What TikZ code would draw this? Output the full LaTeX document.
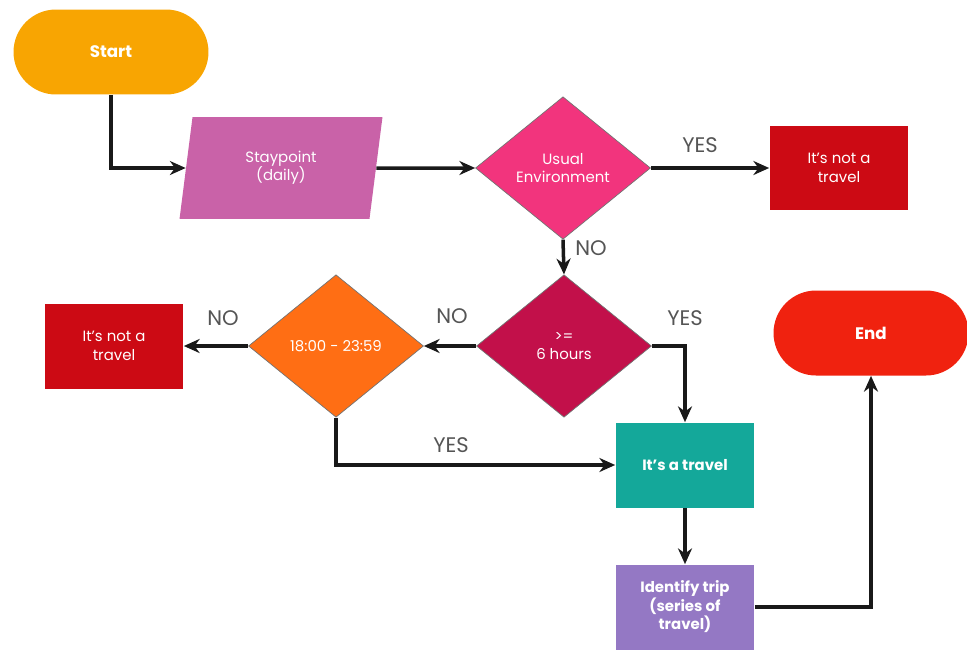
\documentclass[tikz,border=0pt]{standalone}
\usepackage{fontspec}
\setmainfont{Poppins}
\usetikzlibrary{shapes.geometric, arrows.meta}

\definecolor{startorange}{HTML}{F8A502}
\definecolor{staypink}{HTML}{C962A8}
\definecolor{usualpink}{HTML}{F2347D}
\definecolor{notred}{HTML}{CC0A14}
\definecolor{sixred}{HTML}{C2104A}
\definecolor{timeorange}{HTML}{FF6E14}
\definecolor{travelteal}{HTML}{14A89A}
\definecolor{trippurple}{HTML}{9478C4}
\definecolor{endred}{HTML}{F0220F}
\definecolor{labelgray}{HTML}{555555}

\begin{document}
\begin{tikzpicture}[x=0.02cm, y=-0.02cm, font=\fontsize{8.5}{10.5}\selectfont]
      \tikzset{terminal/.style={rectangle, rounded corners=0.85cm, fill=#1, text=white,
               font=\fontsize{9.5}{11}\selectfont\bfseries, minimum width=3.9cm, minimum height=1.7cm},
               decision/.style={diamond, fill=#1, draw=black!55, thin, text=white, align=center,
               inner sep=0pt, minimum width=3.5cm, minimum height=2.85cm},
               result/.style={rectangle, fill=#1, text=white, align=center,
               minimum width=2.78cm, minimum height=1.7cm},
               flow/.style={draw=black!90, line width=2pt, -{Stealth[length=9pt, width=8pt]}},
               answer/.style={text=labelgray, font=\fontsize{12}{14}\selectfont}}

      \useasboundingbox (0,0) rectangle (967,650);

      % Start and input
      \node[terminal=startorange] (start) at (111,52) {Start};
      \node[trapezium, trapezium left angle=74, trapezium right angle=106, trapezium stretches body,
            fill=staypink, text=white, align=center, minimum width=4.06cm, minimum height=2.04cm]
            (stay) at (281,168) {Staypoint\\(daily)};

      % Decisions
      \node[decision=usualpink] (usual) at (563,168) {Usual\\Environment};
      \node[decision=sixred] (six) at (564,346) {>=\\6 hours};
      \node[decision=timeorange] (time) at (336,346) {18:00 - 23:59};

      % Outcomes
      \node[result=notred] (notA) at (839,168) {It's not a\\travel};
      \node[result=notred] (notB) at (114,346) {It's not a\\travel};
      \node[result=travelteal, font=\fontsize{8.5}{10.5}\selectfont\bfseries] (travel) at (685,465) {It's a travel};
      \node[result=trippurple, font=\fontsize{8.5}{10.5}\selectfont\bfseries] (trip) at (685,607) {Identify trip\\(series of\\travel)};
      \node[terminal=endred] (end) at (871,333) {End};

      % Connectors
      \draw[flow] (start.south) |- (stay.west);
      \draw[flow] (stay.east) -- (usual.west);
      \draw[flow] (usual.east) -- (notA.west);
      \draw[flow] (usual.south) -- (six.north);
      \draw[flow] (six.west) -- (time.east);
      \draw[flow] (time.west) -- (notB.east);
      \draw[flow] (six.east) -| (travel.north);
      \draw[flow] (time.south) |- (travel.west);
      \draw[flow] (travel.south) -- (trip.north);
      \draw[flow] (trip.east) -| (end.south);

      % YES / NO labels
      \node[answer] (yesA) at (700,145) {YES};
      \node[answer] (noA) at (591,248) {NO};
      \node[answer] (noB) at (452,316) {NO};
      \node[answer] (noC) at (223,318) {NO};
      \node[answer] (yesB) at (685,318) {YES};
      \node[answer] (yesC) at (451,445) {YES};

    \end{tikzpicture}
\end{document}
